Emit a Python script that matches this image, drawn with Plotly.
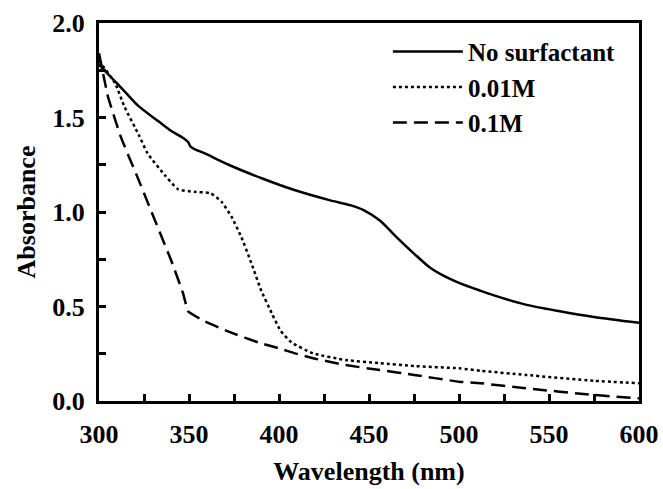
import plotly.graph_objects as go

# No surfactant
wl_a = [300, 305, 310, 315, 322, 333, 340, 347, 349.5, 351, 360, 372, 390, 409, 428, 440, 447, 456, 465, 475, 484, 493, 500, 512, 519, 537, 556, 575, 600]
ab_a = [1.78, 1.73, 1.68, 1.63, 1.56, 1.48, 1.43, 1.39, 1.37, 1.345, 1.305, 1.25, 1.18, 1.115, 1.063, 1.035, 1.01, 0.955, 0.87, 0.78, 0.705, 0.655, 0.625, 0.583, 0.56, 0.51, 0.475, 0.445, 0.414]

# 0.01M
wl_b = [300, 309, 314, 322, 327, 336.5, 344, 353, 362, 368, 373.6, 379, 384.7, 390, 396, 401, 407, 419, 437, 456, 475, 500, 512, 537, 575, 600]
ab_b = [1.80, 1.68, 1.56, 1.41, 1.31, 1.196, 1.12, 1.107, 1.099, 1.055, 0.975, 0.869, 0.728, 0.587, 0.464, 0.37, 0.31, 0.252, 0.217, 0.20, 0.185, 0.173, 0.16, 0.138, 0.107, 0.094]

# 0.1M
wl_c = [300, 305, 312, 322, 331, 340, 346.7, 349.6, 359, 372, 390, 400, 409, 419, 437, 456, 475, 500, 512, 537, 575, 600]
ab_c = [1.84, 1.61, 1.40, 1.17, 0.958, 0.746, 0.57, 0.473, 0.42, 0.367, 0.305, 0.279, 0.252, 0.226, 0.19, 0.164, 0.138, 0.102, 0.094, 0.067, 0.032, 0.014]

x_tickvals = [300, 325, 350, 375, 400, 425, 450, 475, 500, 525, 550, 575, 600]
x_ticktext = ["300", "", "350", "", "400", "", "450", "", "500", "", "550", "", "600"]
y_tickvals = [0, 0.25, 0.5, 0.75, 1.0, 1.25, 1.5, 1.75, 2.0]
y_ticktext = ["0.0", "", "0.5", "", "1.0", "", "1.5", "", "2.0"]

font_family = "Liberation Serif"

fig = go.Figure()
fig.add_trace(go.Scatter(x=wl_a, y=ab_a, mode="lines", name="No surfactant",
                         line=dict(color="black", width=2.5, shape="spline", smoothing=0.8)))
fig.add_trace(go.Scatter(x=wl_b, y=ab_b, mode="lines", name="0.01M",
                         line=dict(color="black", width=2.5, dash="dot", shape="spline", smoothing=0.5)))
fig.add_trace(go.Scatter(x=wl_c, y=ab_c, mode="lines", name="0.1M",
                         line=dict(color="black", width=2.5, dash="14px,7px", shape="spline", smoothing=0.3)))

tick_font = dict(family=font_family, size=26, color="black", weight="bold")
title_font = dict(family=font_family, size=26, color="black", weight="bold")

fig.update_xaxes(
    range=[300, 600], tickvals=x_tickvals, ticktext=x_ticktext,
    ticks="inside", ticklen=7, tickwidth=2.5, tickcolor="black", layer="above traces",
    showline=True, linecolor="black", linewidth=3, mirror=True,
    showgrid=False, zeroline=False, tickfont=tick_font, ticklabelstandoff=8,
    title=dict(text="Wavelength (nm)", font=title_font, standoff=14),
)
fig.update_yaxes(
    range=[0, 2.0], tickvals=y_tickvals, ticktext=y_ticktext,
    ticks="inside", ticklen=7, tickwidth=2.5, tickcolor="black", layer="above traces",
    showline=True, linecolor="black", linewidth=3, mirror=True,
    showgrid=False, zeroline=False, tickfont=tick_font, ticklabelstandoff=6,
    title=dict(text="Absorbance", font=title_font, standoff=10),
)

fig.update_layout(
    width=663, height=489,
    margin=dict(l=99, r=24, t=23, b=88, autoexpand=False),
    plot_bgcolor="white", paper_bgcolor="white",
    font=dict(family=font_family, color="black"),
    legend=dict(x=0.535, y=0.985, xanchor="left", yanchor="top",
                bgcolor="rgba(0,0,0,0)", borderwidth=0,
                font=dict(family=font_family, size=25, color="black", weight="bold"),
                tracegroupgap=0, itemwidth=70),
    showlegend=True,
)

fig.write_html("out.html")
